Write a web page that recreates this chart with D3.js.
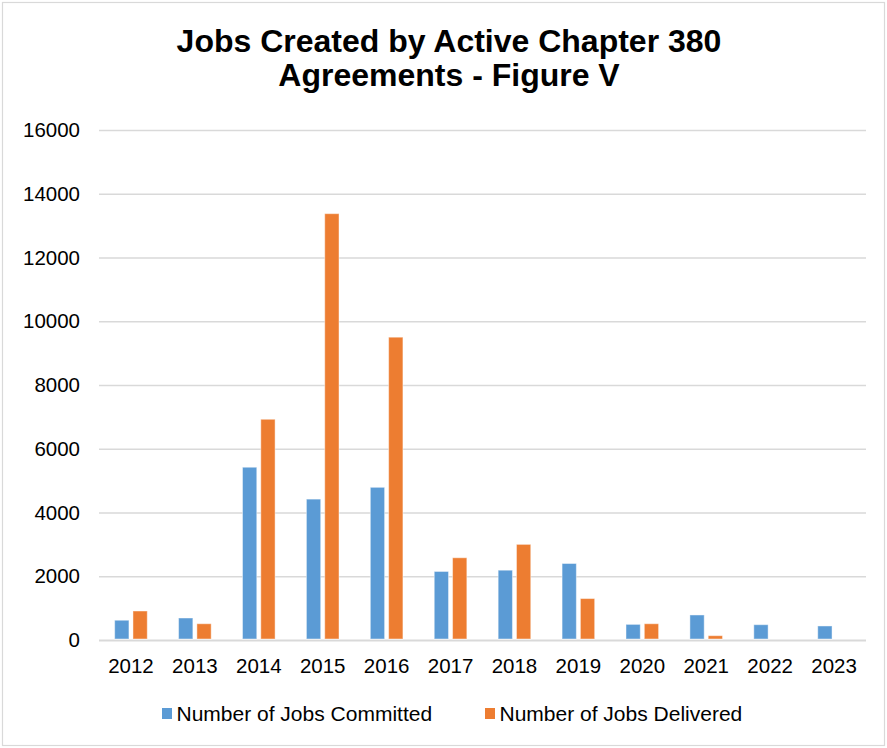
<!DOCTYPE html>
<html>
<head>
<meta charset="utf-8">
<script src="https://cdn.jsdelivr.net/npm/d3@7"></script>
<style>
  body { margin: 0; background: #fff; }
  svg { display: block; font-family: Arial, "Liberation Sans", sans-serif; }
  .grid line { stroke: #d9d9d9; stroke-width: 1.3; }
  .tick text { fill: #000; font-size: 20.5px; }
</style>
</head>
<body>
<div id="chart"></div>
<script>
var years = ["2012", "2013", "2014", "2015", "2016", "2017", "2018", "2019", "2020", "2021", "2022", "2023"];
var committed = [620, 690, 5420, 4420, 4790, 2150, 2190, 2400, 490, 785, 480, 440];
var delivered = [910, 510, 6925, 13375, 9500, 2580, 3000, 1300, 510, 135, null, null];
var seriesNames = ["Number of Jobs Committed", "Number of Jobs Delivered"];
var colors = ["#5b9bd5", "#ed7d31"];
var yTicks = [0, 2000, 4000, 6000, 8000, 10000, 12000, 14000, 16000];

var W = 887, H = 748;
var margin = {top: 130, right: 21, bottom: 108, left: 99},
    width = W - margin.left - margin.right,
    height = H - margin.top - margin.bottom;

var svg = d3.select("#chart").append("svg")
    .attr("width", W)
    .attr("height", H);

// outer border of the chart area
svg.append("rect")
    .attr("x", 2.5).attr("y", 2.5)
    .attr("width", W - 5).attr("height", H - 5)
    .attr("fill", "#fff")
    .attr("stroke", "#d9d9d9")
    .attr("stroke-width", 1.2);

// title
var title = svg.append("text")
    .attr("text-anchor", "middle")
    .attr("font-weight", "bold")
    .attr("font-size", "32px")
    .attr("fill", "#000");
title.append("tspan").attr("x", 449).attr("y", 52).text("Jobs Created by Active Chapter 380");
title.append("tspan").attr("x", 449).attr("y", 86).text("Agreements - Figure V");

var g = svg.append("g")
    .attr("transform", "translate(" + margin.left + "," + margin.top + ")");

var x0 = d3.scaleBand().domain(years).range([0, width]).padding(0);
var groupW = 32.6;
var x1 = d3.scaleBand().domain([0, 1]).range([0, groupW]).paddingInner(0.22).paddingOuter(0);
var y = d3.scaleLinear().domain([0, 16000]).range([height, 0]);

// gridlines + y labels
var yAxis = d3.axisLeft(y).tickValues(yTicks).tickSize(-width).tickPadding(19).tickFormat(d3.format("d"));
var gy = g.append("g").attr("class", "grid").call(yAxis);
gy.select(".domain").remove();
gy.selectAll(".tick line").filter(function(d) { return d === 0; }).style("stroke-width", 2);

// x labels
var xAxis = d3.axisBottom(x0).tickSize(0).tickPadding(18.4);
var gx = g.append("g").attr("transform", "translate(0," + height + ")").call(xAxis);
gx.select(".domain").remove();

// bars
var series = [committed, delivered];
var rows = years.map(function(yr, i) {
    return {year: yr, values: series.map(function(s, k) { return {k: k, v: s[i]}; })};
});

var groups = g.selectAll("g.year")
    .data(rows)
    .enter().append("g")
    .attr("class", "year")
    .attr("transform", function(d) {
        return "translate(" + (x0(d.year) + (x0.bandwidth() - groupW) / 2) + ",0)";
    });

groups.selectAll("rect")
    .data(function(d) { return d.values.filter(function(e) { return e.v != null; }); })
    .enter().append("rect")
    .attr("x", function(d) { return x1(d.k); })
    .attr("width", x1.bandwidth())
    .attr("y", function(d) { return y(d.v); })
    .attr("height", function(d) { return height - y(d.v) - 1; })
    .attr("fill", function(d) { return colors[d.k]; })
    .attr("stroke", "#fff")
    .attr("stroke-opacity", 0.45)
    .attr("stroke-width", 1);

// legend
var legendX = [162, 485];
var legend = svg.selectAll("g.legend")
    .data(seriesNames)
    .enter().append("g")
    .attr("class", "legend")
    .attr("transform", function(d, i) { return "translate(" + legendX[i] + ",708)"; });

legend.append("rect")
    .attr("width", 10).attr("height", 11)
    .attr("fill", function(d, i) { return colors[i]; });

legend.append("text")
    .attr("x", 14.5).attr("y", 13)
    .attr("font-size", "21px")
    .attr("fill", "#000")
    .text(function(d) { return d; });
</script>
</body>
</html>
